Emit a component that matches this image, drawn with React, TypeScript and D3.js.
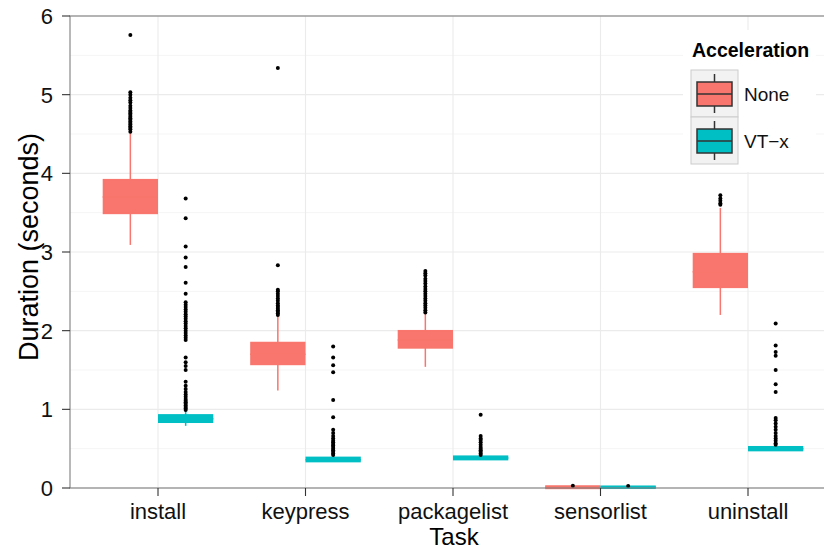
import { useEffect, useRef } from 'react';
import * as d3 from 'd3';

const tasks = ['install', 'keypress', 'packagelist', 'sensorlist', 'uninstall'];
const accels = ['None', 'VT\u2212x'];
const yTicks = [0, 1, 2, 3, 4, 5, 6];

// [lower whisker, q1, median, q3, upper whisker] per task
const noneStats = [
  [3.09, 3.5, 3.7, 3.91, 4.51],
  [1.24, 1.58, 1.7, 1.84, 2.19],
  [1.54, 1.79, 1.88, 1.99, 2.22],
  [0.0, 0.004, 0.01, 0.016, 0.02],
  [2.2, 2.56, 2.75, 2.97, 3.56],
];
const vtxStats = [
  [0.79, 0.845, 0.88, 0.92, 0.98],
  [0.33, 0.345, 0.36, 0.38, 0.4],
  [0.36, 0.37, 0.38, 0.395, 0.41],
  [0.003, 0.006, 0.01, 0.013, 0.016],
  [0.47, 0.485, 0.5, 0.515, 0.53],
];

const noneOutliers = [
  [4.53, 4.56, 4.58, 4.6, 4.62, 4.64, 4.66, 4.68, 4.7, 4.72, 4.74, 4.76, 4.78, 4.8, 4.83, 4.86, 4.9, 4.93, 4.96, 5.0, 5.03, 5.76],
  [2.2, 2.22, 2.24, 2.26, 2.28, 2.3, 2.32, 2.35, 2.38, 2.41, 2.44, 2.47, 2.5, 2.52, 2.83, 5.34],
  [2.23, 2.26, 2.29, 2.32, 2.35, 2.38, 2.41, 2.44, 2.47, 2.5, 2.53, 2.56, 2.6, 2.63, 2.66, 2.7, 2.73, 2.76],
  [0.03],
  [3.6, 3.62, 3.65, 3.68, 3.72],
];
const vtxOutliers = [
  [0.99, 1.01, 1.03, 1.05, 1.07, 1.09, 1.11, 1.13, 1.16, 1.19, 1.22, 1.26, 1.3, 1.35, 1.5, 1.55, 1.6, 1.66,
    1.88, 1.91, 1.94, 1.97, 2.0, 2.03, 2.06, 2.09, 2.12, 2.15, 2.18, 2.21, 2.24, 2.27, 2.3, 2.33, 2.36,
    2.47, 2.61, 2.81, 2.93, 3.07, 3.43, 3.68],
  [0.42, 0.44, 0.46, 0.48, 0.5, 0.52, 0.54, 0.56, 0.58, 0.6, 0.63, 0.66, 0.7, 0.74, 0.9, 1.12, 1.47, 1.56, 1.66, 1.8],
  [0.42, 0.44, 0.46, 0.48, 0.5, 0.52, 0.55, 0.58, 0.61, 0.63, 0.66, 0.93],
  [0.025],
  [0.55, 0.57, 0.6, 0.63, 0.66, 0.7, 0.74, 0.78, 0.82, 0.86, 0.89, 1.22, 1.32, 1.5, 1.68, 1.73, 1.81, 2.09],
];

const colors = ['#F8766D', '#00BFC4'];

const App = () => {
  const svgRef = useRef(null);

  useEffect(() => {
    const svg = d3.select(svgRef.current);
    svg.selectAll('*').remove();

    const width = 824;
    const height = 550;
    const panel = { left: 70, top: 16, right: 836.5, bottom: 488 };
    const font = 'Liberation Sans, Arial, sans-serif';

    svg.attr('width', width).attr('height', height);

    const x = d3.scalePoint().domain(tasks).range([69.5, panel.right]).padding(0.6);
    const step = x.step();
    const dodge = d3.scaleBand().domain(accels).range([-step * 0.375, step * 0.375]);
    const y = d3.scaleLinear().domain([0, 6]).range([panel.bottom, panel.top]);

    // panel background + grid
    svg.append('rect')
      .attr('x', panel.left).attr('y', panel.top)
      .attr('width', panel.right - panel.left).attr('height', panel.bottom - panel.top)
      .attr('fill', 'white');

    const minor = d3.range(0.5, 6, 1);
    svg.append('g').selectAll('line').data(minor).enter().append('line')
      .attr('x1', panel.left).attr('x2', panel.right)
      .attr('y1', d => y(d)).attr('y2', d => y(d))
      .attr('stroke', '#f5f5f5').attr('stroke-width', 1);
    svg.append('g').selectAll('line').data(yTicks).enter().append('line')
      .attr('x1', panel.left).attr('x2', panel.right)
      .attr('y1', d => y(d)).attr('y2', d => y(d))
      .attr('stroke', '#ebebeb').attr('stroke-width', 1.1);
    svg.append('g').selectAll('line').data(tasks).enter().append('line')
      .attr('x1', d => x(d)).attr('x2', d => x(d))
      .attr('y1', panel.top).attr('y2', panel.bottom)
      .attr('stroke', '#ebebeb').attr('stroke-width', 1.1);

    const series = [
      { stats: noneStats, outliers: noneOutliers },
      { stats: vtxStats, outliers: vtxOutliers },
    ];
    const bw = dodge.bandwidth();

    series.forEach((s, si) => {
      const g = svg.append('g');
      tasks.forEach((t, ti) => {
        const cx = x(t) + dodge(accels[si]) + bw / 2;
        const [lo, q1, med, q3, hi] = s.stats[ti];
        const c = colors[si];
        g.append('line')
          .attr('x1', cx).attr('x2', cx).attr('y1', y(hi)).attr('y2', y(lo))
          .attr('stroke', c).attr('stroke-width', 1.5);
        const top = y(q3);
        const h = Math.max(y(q1) - top, 0);
        g.append('rect')
          .attr('x', cx - bw / 2 + 0.75).attr('y', top - 0.75)
          .attr('width', bw - 1.5).attr('height', h + 1.5)
          .attr('fill', c).attr('stroke', c).attr('stroke-width', 1.5);
        g.append('line')
          .attr('x1', cx - bw / 2).attr('x2', cx + bw / 2).attr('y1', y(med)).attr('y2', y(med))
          .attr('stroke', c).attr('stroke-width', 1.5);
        g.selectAll('circle.o').data(s.outliers[ti]).enter().append('circle')
          .attr('cx', cx).attr('cy', d => y(d)).attr('r', 2)
          .attr('fill', 'black');
      });
    });

    // panel border
    svg.append('rect')
      .attr('x', panel.left).attr('y', panel.top)
      .attr('width', panel.right - panel.left).attr('height', panel.bottom - panel.top)
      .attr('fill', 'none').attr('stroke', '#7f7f7f').attr('stroke-width', 1.1);

    // y axis
    const ya = svg.append('g');
    ya.selectAll('line').data(yTicks).enter().append('line')
      .attr('x1', panel.left - 8).attr('x2', panel.left)
      .attr('y1', d => y(d)).attr('y2', d => y(d))
      .attr('stroke', '#333').attr('stroke-width', 1.1);
    ya.selectAll('text').data(yTicks).enter().append('text')
      .attr('x', panel.left - 17).attr('y', d => y(d)).attr('dy', '0.36em')
      .attr('text-anchor', 'end').attr('font-family', font).attr('font-size', 22)
      .attr('fill', '#111').text(d => d);

    // x axis
    const xa = svg.append('g');
    xa.selectAll('line').data(tasks).enter().append('line')
      .attr('x1', d => x(d)).attr('x2', d => x(d))
      .attr('y1', panel.bottom).attr('y2', panel.bottom + 8)
      .attr('stroke', '#333').attr('stroke-width', 1.1);
    xa.selectAll('text').data(tasks).enter().append('text')
      .attr('x', d => x(d)).attr('y', 519)
      .attr('text-anchor', 'middle').attr('font-family', font).attr('font-size', 22)
      .attr('fill', '#111').text(d => d);

    svg.append('text')
      .attr('x', 454).attr('y', 545).attr('text-anchor', 'middle')
      .attr('font-family', font).attr('font-size', 24).attr('fill', 'black').text('Task');
    svg.append('text')
      .attr('transform', `translate(38,247) rotate(-90)`)
      .attr('text-anchor', 'middle')
      .attr('font-family', font).attr('font-size', 27).attr('fill', 'black').text('Duration (seconds)');

    // legend
    const lg = svg.append('g');
    lg.append('rect').attr('x', 683).attr('y', 30).attr('width', 133).attr('height', 142).attr('fill', 'white');
    lg.append('text').attr('x', 692).attr('y', 57)
      .attr('font-family', font).attr('font-size', 19.5).attr('font-weight', 'bold').text('Acceleration');
    accels.forEach((a, i) => {
      const ky = 70 + i * 47;
      lg.append('rect').attr('x', 691).attr('y', ky).attr('width', 47).attr('height', 47)
        .attr('fill', '#f2f2f2').attr('stroke', '#cccccc').attr('stroke-width', 1);
      lg.append('line').attr('x1', 714.5).attr('x2', 714.5).attr('y1', ky + 4).attr('y2', ky + 43)
        .attr('stroke', '#333').attr('stroke-width', 1.5);
      lg.append('rect').attr('x', 697).attr('y', ky + 12).attr('width', 35).attr('height', 24)
        .attr('fill', colors[i]).attr('stroke', '#333').attr('stroke-width', 1.5);
      lg.append('line').attr('x1', 697).attr('x2', 732).attr('y1', ky + 24).attr('y2', ky + 24)
        .attr('stroke', '#333').attr('stroke-width', 1.5);
      lg.append('text').attr('x', 744).attr('y', ky + 24).attr('dy', '0.36em')
        .attr('font-family', font).attr('font-size', 19).attr('fill', '#111').text(a);
    });
  }, []);

  return (
    <div style={{ position: 'absolute', left: 0, top: 0, width: 824, height: 550, overflow: 'hidden', background: 'white' }}>
      <svg ref={svgRef} style={{ display: 'block' }}></svg>
    </div>
  );
};

export default App;
